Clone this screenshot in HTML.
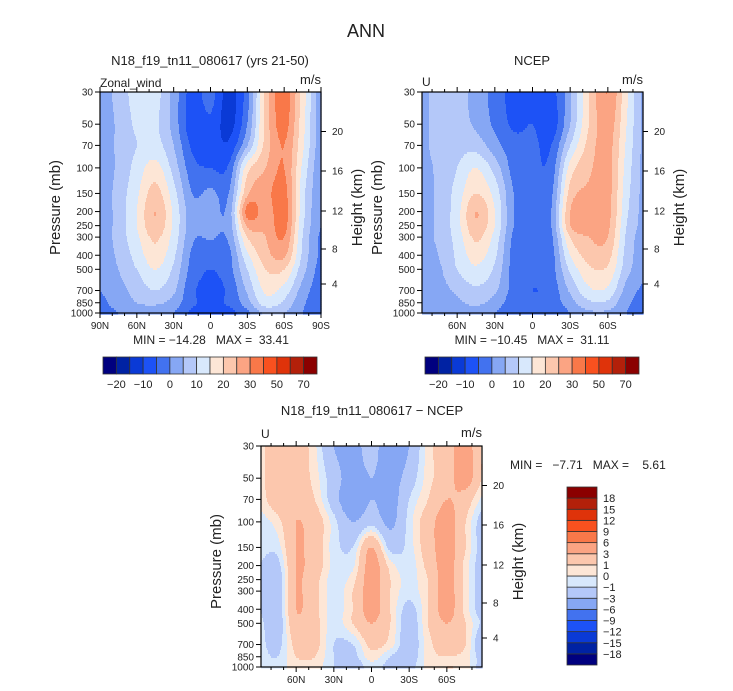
<!DOCTYPE html>
<html><head><meta charset="utf-8">
<style>
html,body{margin:0;padding:0;background:#fff;}
svg{display:block;font-family:"Liberation Sans",sans-serif;}
text{fill:#222;}
</style></head>
<body>
<svg id="fig" width="733" height="691" viewBox="0 0 733 691" xmlns="http://www.w3.org/2000/svg">
<text x="366" y="37" font-size="18" text-anchor="middle">ANN</text>
<text x="210" y="65" font-size="13" text-anchor="middle">N18_f19_tn11_080617 (yrs 21-50)</text>
<text x="100" y="87" font-size="12">Zonal_wind</text>
<text x="321" y="84" font-size="13" text-anchor="end">m/s</text>
<text x="211" y="344" font-size="12" text-anchor="middle" xml:space="preserve">MIN = −14.28   MAX =  33.41</text>
<text x="532" y="65" font-size="13" text-anchor="middle">NCEP</text>
<text x="422" y="86" font-size="12">U</text>
<text x="643" y="84" font-size="13" text-anchor="end">m/s</text>
<text x="532" y="344" font-size="12" text-anchor="middle" xml:space="preserve">MIN = −10.45   MAX =  31.11</text>
<text x="372" y="415" font-size="13" text-anchor="middle">N18_f19_tn11_080617 − NCEP</text>
<text x="261" y="438" font-size="12">U</text>
<text x="482" y="437" font-size="13" text-anchor="end">m/s</text>
<text x="510" y="469" font-size="12" xml:space="preserve">MIN =   −7.71   MAX =    5.61</text>
</svg>
<script>
// ---------- data ----------
const lats = [90,75,60,45,30,15,0,-15,-30,-45,-60,-75,-90];
const levels = [30,50,70,100,150,200,250,300,400,500,700,850,1000];
const modelU = [
[2,7,12,12,3,-7,-3,-12,-2,22,33,18,2],
[2,6,11,11,3,-8,-6,-12,0,22,32,17,2],
[2,6,10,12,5,-6,-7,-9,5,22,30,16,2],
[2,6,12,17,8,-3,-5,-4,18,25,30,14,1],
[2,7,14,22,12,0,1,0,24,28,32,12,1],
[2,7,15,25,14,2,2,2,32,27,33,12,0],
[2,7,15,24,14,2,2,2,26,26,32,11,0],
[2,7,14,21,13,1,0.5,1,20,25,30,10,-1],
[2,6,12,18,11,-1,-3,-1.5,14,23,26,9,-1],
[1,5,10,15,9,-2,-5,-2,10,20,20,7,-2],
[0,3,7,10,6,-4,-6,-4,6,16,13,3,-3],
[-1,2,5,6,3,-4,-6,-4,3,13,9,1,-3],
[-2,0,2,2,0,-6,-6,-7,-1,6,5,0,-4]];
const ncepU = [
[3,7,7,3,-2,-7,-7,-7,4,20,30,16,3],
[3,7,7,4,-1,-6,-5,-8,5,20,28,15,3],
[3,7,8,8,2,-3,-4,-5,10,22,27,14,3],
[3,6,10,15,8,-2,-4,-3,17,24,27,13,3],
[3,6,12,20,13,0,-3,-1,22,26,27,12,3],
[3,6,13,25,15,0,-3,0,25,27,27,11,3],
[3,6,13,24,15,0,-3,0,25,27,26,10,3],
[3,6,12,21,13,-1,-3,-1,20,25,25,9,2],
[2,5,11,17,11,-2,-4,-2,15,22,22,8,2],
[2,4,10,14,9,-2,-4,-2,11,19,19,7,1],
[1,3,6,9,6,-2,-5,-3,6,14,14,3,-1],
[1,2,4,6,3,-3,-4,-3,3,9,9,1,-1],
[0,1,2,3,0,-4,-4,-4,0,4,4,0,-1]];
const diffU = [
[0.5,2,2,0.2,-3,-4,-2,-5,-3,0.5,2,4,0.5],
[0.5,2,2,0.5,-2,-4,-3,-4,-2,0.5,2,4,0.5],
[0.3,2,2.5,1,-2,-5,-3,-4,-1,1,3,2,-0.5],
[-0.5,0.5,3,2,-0.5,-3,-1.5,-3.5,-0.5,2,4,1,-2],
[-0.5,-0.5,3,2,-0.5,-1,3,-1.5,-0.5,2,4,1,-2],
[-1,-1.5,3,2,-0.3,-0.3,4,0.5,-0.5,1.5,4,0.5,-2],
[-1,-2,3,1.5,-0.5,0.5,4,1,-0.3,1,4,0.5,-2],
[-1,-2,3,1.5,-0.5,1,4,1,-0.5,1,4,0.5,-2],
[-1,-2,3,1.5,-0.5,1,4,1,-1.5,1,4,0.5,-2],
[-0.5,-2,2.5,1.5,-0.5,1,3,1,-2,1,3,1,-1.5],
[-0.5,-1.5,1.5,1.5,-1,-1,1.5,0.5,-2,0.5,2,1,-3],
[-0.5,-1,1,1,-1,-1.5,0.5,-1,-2,0.5,1,0.5,-2],
[-0.5,-0.5,0.5,0.5,-1,-2,-0.5,-1.5,-1.5,0.3,1,0.5,-2]];
const windBounds = [-20,-15,-10,-5,0,5,10,15,20,25,30,40,50,60,70];
const windBarLabels = ["−20","−10","0","10","20","30","50","70"];
const diffBounds = [-18,-15,-12,-9,-6,-3,-1,0,1,3,6,9,12,15,18];
const diffBarLabels = ["−18","−15","−12","−9","−6","−3","−1","0","1","3","6","9","12","15","18"];
const pressureTicks = [30,50,70,100,150,200,250,300,400,500,700,850,1000];
const heightTicks = [20,16,12,8,4];
const heightOffsets = [39.5,79,119,157,192];
const palette = ['#00007f','#0022a3','#0a3ad6','#1d52f6','#4272ef','#86a7f4','#b4c8f9','#d8e8fc','#fde6d6','#fcc7ad','#fba483','#f97849','#f9511f','#df330a','#b3200a','#8b0000'];

const NS='http://www.w3.org/2000/svg';
const svg=document.getElementById('fig');
function mk(tag,attrs,parent){const e=document.createElementNS(NS,tag);for(const k in attrs)e.setAttribute(k,attrs[k]);(parent||svg).appendChild(e);return e;}
const LN=Math.log(1000/30);
function yOfP(P,p){return P.y0+Math.log(p/30)/LN*P.h;}
function xOfLat(P,lat){return P.x0+(P.latL-lat)/(P.latL-P.latR)*P.w;}
function cr(p0,p1,p2,p3,t){return 0.5*((2*p1)+(-p0+p2)*t+(2*p0-5*p1+4*p2-p3)*t*t+(-p0+3*p1-3*p2+p3)*t*t*t);}
function rowAt(grid,j,xi){
  const n=grid[0].length; const i=Math.floor(xi), f=xi-i;
  const g=k=>grid[j][Math.max(0,Math.min(n-1,k))];
  return cr(g(i-1),g(i),g(i+1),g(i+2),f);
}
function sample(grid,lat,p){
  let xi=(90-lat)/15; xi=Math.max(0,Math.min(11.9999,xi));
  const lp=Math.log(p); let j=0;
  while(j<levels.length-2 && Math.log(levels[j+1])<lp) j++;
  let fy=(lp-Math.log(levels[j]))/(Math.log(levels[j+1])-Math.log(levels[j]));
  fy=Math.max(0,Math.min(1,fy));
  const m=levels.length;
  const r=k=>rowAt(grid,Math.max(0,Math.min(m-1,k)),xi);
  return cr(r(j-1),r(j),r(j+1),r(j+2),fy);
}
function cls(v,bounds){let k=0;while(k<bounds.length&&v>=bounds[k])k++;return k;}
function drawPlot(P){
  const g=mk('g',{});
  
  
  const step=2;
  for(let r=0;r<P.h;r+=step){
    const p=30*Math.exp((r+step/2)/P.h*LN);
    let start=0,cur=-1;
    for(let c=0;c<=P.w;c++){
      let k=-2;
      if(c<P.w){const lat=P.latL+(c+0.5)/P.w*(P.latR-P.latL);k=cls(sample(P.grid,lat,p),P.bounds);}
      if(k!==cur){
        if(cur>=0){const rc=mk('rect',{x:P.x0+start,y:P.y0+r,width:c-start+0.6,height:step+0.6,fill:palette[cur]},g);
          
          }
        cur=k;start=c;
      }
    }
  }
  const fr=mk('rect',{x:P.x0,y:P.y0,width:P.w,height:P.h,fill:'none',stroke:'#000','stroke-width':1.2});
  
  
  pressureTicks.forEach(pv=>{
    const y=yOfP(P,pv);
    mk('line',{x1:P.x0-5,x2:P.x0,y1:y,y2:y,stroke:'#000'});
    const t=mk('text',{x:P.x0-7,y:y+3.5,'font-size':10,'text-anchor':'end'});
    t.textContent=pv;
    
    
  });
  heightTicks.forEach((hv,i)=>{
    const y=P.y0+heightOffsets[i];
    mk('line',{x1:P.x0+P.w,x2:P.x0+P.w+5,y1:y,y2:y,stroke:'#000'});
    const t=mk('text',{x:P.x0+P.w+11,y:y+3.5,'font-size':10});
    t.textContent=hv;
    
    
  });
  for(let lat=90;lat>=-90;lat-=10){
    if(lat>P.latL+0.1||lat<P.latR-0.1)continue;
    const x=xOfLat(P,lat); const major=(lat%30===0);
    const L=major?5:3;
    mk('line',{x1:x,x2:x,y1:P.y0+P.h,y2:P.y0+P.h+L,stroke:'#000'});
    mk('line',{x1:x,x2:x,y1:P.y0,y2:P.y0-L,stroke:'#000'});
    if(major){
      const t=mk('text',{x:x,y:P.y0+P.h+16,'font-size':10,'text-anchor':'middle'});
      t.textContent=lat===0?'0':(Math.abs(lat)+(lat>0?'N':'S'));
      
      
    }
  }
  const yl=mk('text',{x:0,y:0,'font-size':15,'text-anchor':'middle',transform:`translate(${P.x0-40},${P.y0+P.h/2+5}) rotate(-90)`});
  yl.textContent='Pressure (mb)';
  
  
  const hl=mk('text',{x:0,y:0,'font-size':15,'text-anchor':'middle',transform:`translate(${P.x0+P.w+41},${P.y0+P.h/2+5}) rotate(-90)`});
  hl.textContent='Height (km)';
  
  
}
drawPlot({name:'model',x0:100,y0:92,w:221,h:221,latL:90,latR:-90,grid:modelU,bounds:windBounds});
drawPlot({name:'ncep',x0:422,y0:92,w:221,h:221,latL:88,latR:-88,grid:ncepU,bounds:windBounds});
drawPlot({name:'diff',x0:261,y0:446,w:221,h:221,latL:88,latR:-88,grid:diffU,bounds:diffBounds});

function hBar(name,x0,y0,w,h){
  const bw=w/palette.length;
  palette.forEach((c,i)=>{
    const r=mk('rect',{x:x0+i*bw,y:y0,width:bw,height:h,fill:c,stroke:'#333','stroke-width':0.8});
    
    
  });
  windBarLabels.forEach((lb,i)=>{
    const t=mk('text',{x:x0+(2*i+1)*bw,y:y0+h+14,'font-size':11,'text-anchor':'middle'});
    t.textContent=lb;
    
    
  });
}
hBar('model-colorbar',103,357,214,17);
hBar('ncep-colorbar',425,357,214,17);
(function(){
  const x0=567,y0=487,w=30,h=178,bh=h/palette.length;
  palette.forEach((c,i)=>{
    const r=mk('rect',{x:x0,y:y0+h-(i+1)*bh,width:w,height:bh,fill:c,stroke:'#333','stroke-width':0.8});
    
    
  });
  diffBarLabels.forEach((lb,i)=>{
    const t=mk('text',{x:x0+w+6,y:y0+h-(i+1)*bh+4,'font-size':11});
    t.textContent=lb;
    
    
  });
})();
</script>
</body></html>
